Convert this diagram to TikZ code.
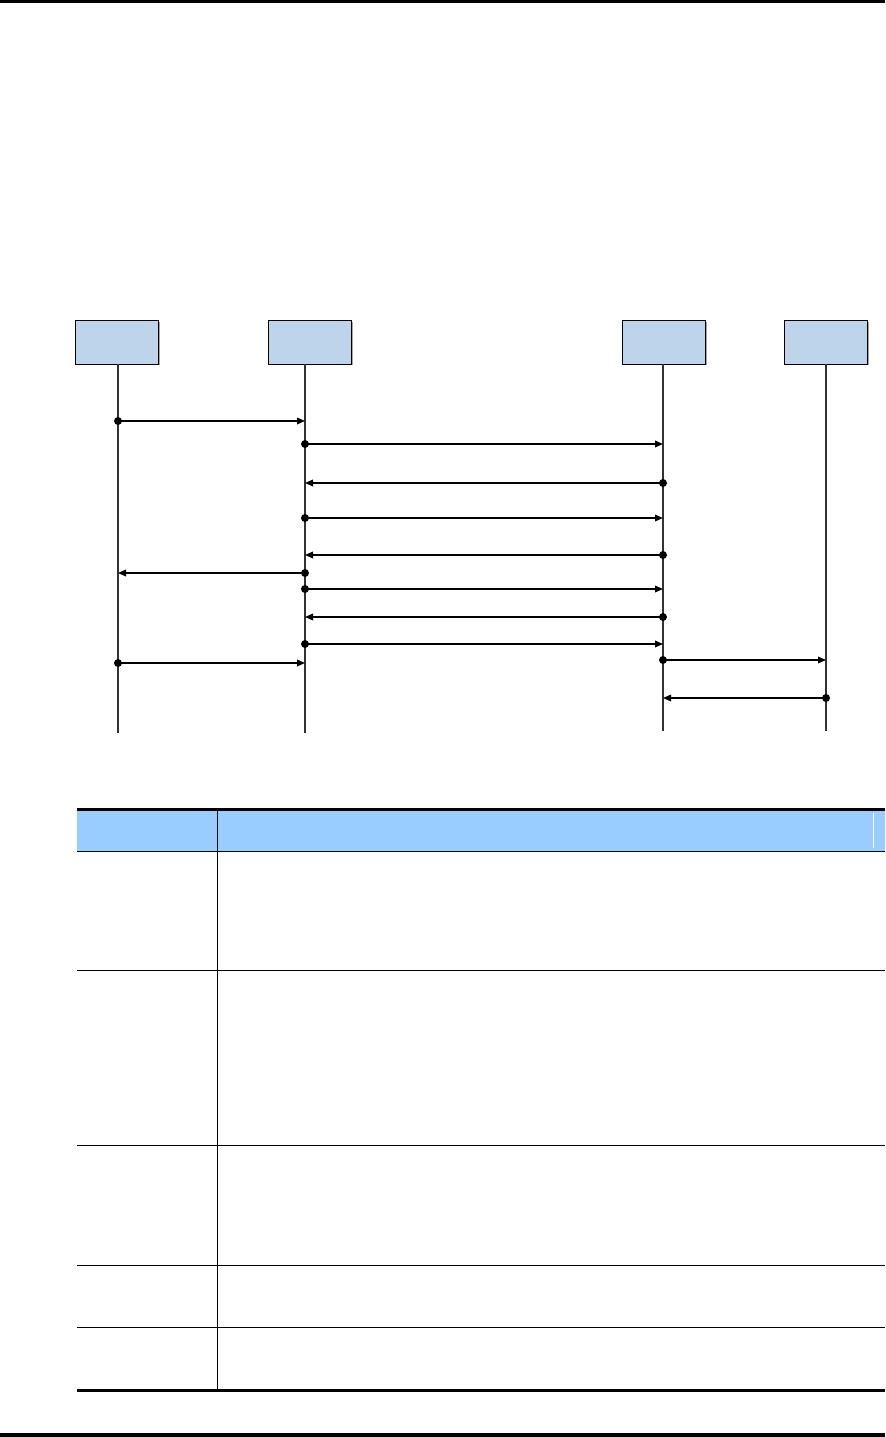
\documentclass[tikz,border=0pt]{standalone}
\usetikzlibrary{arrows.meta,shadows}
\definecolor{boxblue}{RGB}{190,212,234}
\definecolor{headblue}{RGB}{153,204,255}
\definecolor{lifegray}{RGB}{50,50,50}
\tikzset{
  actor/.style={draw=black,line width=0.75pt,fill=boxblue,minimum width=62.25pt,minimum height=32.25pt,inner sep=0pt,
    drop shadow={shadow xshift=1pt,shadow yshift=-1pt,fill=black!35,opacity=1}},
  life/.style={draw=lifegray,line width=1.4pt},
  msg/.style={draw=black,line width=0.9pt,-{Triangle[length=6pt,width=5pt]}},
  dotend/.style={fill=black,draw=none},
  rule/.style={draw=black,line width=0.75pt},
  thick rule/.style={draw=black,line width=2.25pt},
}
\begin{document}
\begin{tikzpicture}[x=0.75pt,y=-0.75pt]
\useasboundingbox (0,0) rectangle (885,1437);
% page rules
\draw[line width=2.25pt] (0,1.5) coordinate (tl) -- (885,1.5) coordinate (tr);
\draw[line width=3pt] (0,1435) coordinate (bl) -- (885,1435) coordinate (br);
% actors
\node[actor] (a1) at (117,342.5) {};
\node[actor] (a2) at (310,342.5) {};
\node[actor] (a3) at (664,342.5) {};
\node[actor] (a4) at (826,342.5) {};
% lifelines
\coordinate (s1) at (118,364);
\coordinate (s2) at (305,364);
\coordinate (s3) at (663,364);
\coordinate (s4) at (826,364);
\coordinate (e1) at (118,733);
\coordinate (e2) at (305,733);
\coordinate (e3) at (663,731);
\coordinate (e4) at (826,731);
\draw[life] (s1) -- (e1);
\draw[life] (s2) -- (e2);
\draw[life] (s3) -- (e3);
\draw[life] (s4) -- (e4);
% messages
\foreach \n/\f/\t/\yy in {1/1/2/421, 2/2/3/444, 3/3/2/483, 4/2/3/518, 5/3/2/555, 6/2/1/573, 7/2/3/589, 8/3/2/617, 9/2/3/644, 10/1/2/663, 11/3/4/660, 12/4/3/698}{
  \coordinate (p\n) at (s\f |- 0,\yy);
  \coordinate (q\n) at (s\t |- 0,\yy);
  \draw[msg] (p\n) -- (q\n);
  \fill[dotend] (p\n) circle[radius=3pt];
}
% table
\fill[headblue] (77,810) coordinate (h1) rectangle (885,851) coordinate (h2);
\draw[white,line width=0.75pt] (873,813) coordinate (w1) -- (873,848) coordinate (w2);
\draw[thick rule] (77,809) coordinate (t1) -- (885,809) coordinate (t2);
\draw[rule,line width=1.1pt] (77,851.5) coordinate (r0a) -- (885,851.5) coordinate (r0b);
\foreach \yy [count=\i] in {970,1145,1265,1327}{
  \draw[rule] (77,\yy) coordinate (ra\i) -- (885,\yy) coordinate (rb\i);
}
\draw[thick rule] (77,1390) coordinate (t3) -- (885,1390) coordinate (t4);
\draw[rule] (217,810) coordinate (d1) -- (217,1389) coordinate (d2);
\end{tikzpicture}
\end{document}
